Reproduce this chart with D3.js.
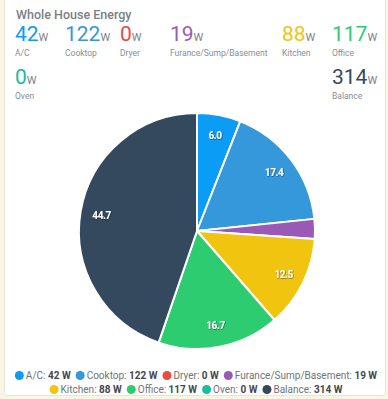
<!DOCTYPE html>
<html>
<head>
<meta charset="utf-8">
<script src="https://cdn.jsdelivr.net/npm/d3@7"></script>
<style>
  body { margin: 0; background: #fbf6e4; }
  svg { display: block; font-family: Roboto, "Open Sans", sans-serif; }
</style>
</head>
<body>
<svg id="chart" width="388" height="399"></svg>
<script>
// data
const names = ["A/C", "Cooktop", "Dryer", "Furance/Sump/Basement", "Kitchen", "Office", "Oven", "Balance"];
const watts = [42, 122, 0, 19, 88, 117, 0, 314];
const colors = ["#0b9cf5", "#3498db", "#e74c3c", "#9b59b6", "#f1c40f", "#2ecc71", "#1abc9c", "#34495e"];
// header tiles: column x, row
const tileCol = [15, 65, 120, 170, 282, 332, 15, 332];
const tileRow = [0, 0, 0, 0, 0, 0, 1, 1];

const svg = d3.select("#chart");
const total = d3.sum(watts);
const data = names.map((n, i) => ({ name: n, value: watts[i], color: colors[i] }));

// card
svg.append("rect")
   .attr("x", 4.5).attr("y", -2).attr("width", 381).attr("height", 397.5)
   .attr("rx", 3)
   .style("fill", "#fff").style("stroke", "#e4e4e0");

svg.append("text")
   .attr("x", 16).attr("y", 19)
   .style("font-size", "12.5px").style("font-weight", 500)
   .style("fill", "#7b7f86")
   .text("Whole House Energy");

// header values
const tiles = svg.append("g").selectAll("g")
   .data(data).enter().append("g")
   .attr("transform", (d, i) => `translate(${tileCol[i]},${41 + tileRow[i] * 43})`);

const big = tiles.append("text")
   .style("font-size", "21px")
   .style("fill", d => d.color);
big.append("tspan").text(d => d.value);
big.append("tspan")
   .style("font-size", "11px").style("fill", "#7b7f86")
   .text("W");

tiles.append("text")
   .attr("y", 14.5)
   .style("font-size", "8.5px").style("fill", "#8a8d93")
   .text(d => d.name);

// pie
const cx = 197, cy = 231, r = 118;
const pie = d3.pie().sort(null).value(d => d.value);
const arc = d3.arc().innerRadius(0).outerRadius(r);
const labelArc = d3.arc().innerRadius(r * 0.82).outerRadius(r * 0.82);

const g = svg.append("g").attr("transform", `translate(${cx},${cy})`);
const arcs = pie(data);

g.selectAll("path")
 .data(arcs.filter(d => d.data.value > 0)).enter()
 .append("path")
 .attr("d", arc)
 .style("fill", d => d.data.color)
 .style("stroke", "#fff").style("stroke-width", 2).style("stroke-linejoin", "round");

const filt = svg.append("defs").append("filter").attr("id", "sh")
   .attr("x", "-20%").attr("y", "-20%").attr("width", "140%").attr("height", "140%");
filt.append("feDropShadow").attr("dx", 0.5).attr("dy", 0.5).attr("stdDeviation", 0.6)
   .attr("flood-color", "#000").attr("flood-opacity", 0.7);

g.selectAll("text")
 .data(arcs.filter(d => d.data.value / total >= 0.05)).enter()
 .append("text")
 .attr("transform", d => `translate(${labelArc.centroid(d)})`)
 .attr("text-anchor", "middle").attr("dy", "0.35em")
 .attr("filter", "url(#sh)")
 .style("font-size", "10px").style("font-weight", 700)
 .style("fill", "#fff").style("letter-spacing", "-0.4px")
 .text(d => (d.data.value / total * 100).toFixed(1));

// legend in two rows, centered
const legendRows = [[0, 1, 2, 3], [4, 5, 6, 7]];
const legendY = [379, 393];
legendRows.forEach((row, ri) => {
  const lg = svg.append("g");
  let x = 0;
  row.forEach(i => {
    const item = lg.append("g").attr("transform", `translate(${x},0)`);
    item.append("circle").attr("cx", 4.5).attr("cy", -3.5).attr("r", 4.5).style("fill", colors[i]);
    const t = item.append("text").attr("x", 11).style("font-size", "10px");
    t.append("tspan").style("fill", "#6f7378").text(names[i] + ": ");
    t.append("tspan").style("fill", "#44484e").style("font-weight", 700).text(watts[i] + " W");
    x += 11 + t.node().getComputedTextLength() + 5;
  });
  const w = x - 5;
  lg.attr("transform", `translate(${196 - w / 2},${legendY[ri]})`);
});
</script>
</body>
</html>
